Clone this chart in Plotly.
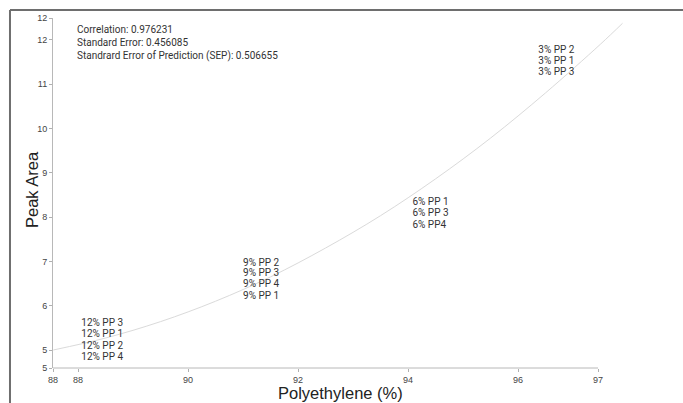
import plotly.graph_objects as go

# ---- data ----
labels_12 = ["12% PP 3", "12% PP 1", "12% PP 2", "12% PP 4"]
x_12 = [88.06, 88.06, 88.06, 88.06]
y_12 = [5.59, 5.34, 5.09, 4.84]

labels_9 = ["9% PP 2", "9% PP 3", "9% PP 4", "9% PP 1"]
x_9 = [91.0, 91.0, 91.0, 91.0]
y_9 = [6.96, 6.72, 6.47, 6.20]

labels_6 = ["6% PP 1", "6% PP 3", "6% PP4"]
x_6 = [94.08, 94.08, 94.08]
y_6 = [8.32, 8.07, 7.82]

labels_3 = ["3% PP 2", "3% PP 1", "3% PP 3"]
x_3 = [96.37, 96.37, 96.37]
y_3 = [11.75, 11.50, 11.25]

# fitted curve, points
curve_x = [87.55, 88.5, 89.5, 90.5, 91.5, 92.5, 93.5, 94.5, 95.5, 96.5, 97.5, 97.9]
curve_y = [5.00, 5.27, 5.64, 6.10, 6.65, 7.30, 8.03, 8.86, 9.78, 10.80, 11.90, 12.37]

x_range = [87.545, 98.2]
y_range = [4.594, 12.49]
x_axis_end = 97.455
x_tickvals = [87.545, 88, 90, 92, 94, 96, 97.455]
x_ticktext = ["88", "88", "90", "92", "94", "96", "97"]
y_tickvals = [4.594, 5, 6, 7, 8, 9, 10, 11, 12, 12.49]
y_ticktext = ["5", "5", "6", "7", "8", "9", "10", "11", "12", "12"]

stats = [
    "Correlation: 0.976231",
    "Standard Error: 0.456085",
    "Standrard Error of Prediction (SEP): 0.506655",
]

NARROW = "Roboto, Liberation Sans, sans-serif"

fig = go.Figure()
fig.add_trace(go.Scatter(x=curve_x, y=curve_y, mode="lines", line=dict(color="#dadada", width=1, shape="spline"),
                         hoverinfo="skip", showlegend=False))
for xs, ys, ls in [(x_12, y_12, labels_12), (x_9, y_9, labels_9), (x_6, y_6, labels_6), (x_3, y_3, labels_3)]:
    fig.add_trace(go.Scatter(x=xs, y=ys, text=ls, mode="text", textposition="middle right",
                             textfont=dict(family=NARROW, size=10, color="#333333"),
                             cliponaxis=False, showlegend=False))

axis_common = dict(showgrid=False, zeroline=False, ticks="outside", ticklen=3, tickcolor="#b0b0b0",
                   tickfont=dict(family="Liberation Sans, Arial, sans-serif", size=9, color="#444444"),
                   tickmode="array", fixedrange=True)
fig.update_xaxes(range=x_range, tickvals=x_tickvals, ticktext=x_ticktext, showline=False, **axis_common)
fig.update_yaxes(range=y_range, tickvals=y_tickvals, ticktext=y_ticktext, showline=True, linecolor="#b8b8b8",
                 linewidth=1, **axis_common)

shapes = [
    # x axis line (only up to the axis end)
    dict(type="line", xref="x", yref="paper", x0=x_range[0], x1=x_axis_end, y0=0, y1=0,
         line=dict(color="#b8b8b8", width=1)),
    # outer frame (left + top)
    dict(type="line", xref="paper", yref="paper", x0=-0.0734, x1=-0.0734, y0=1.0229, y1=-0.1,
         line=dict(color="#6e6e6e", width=2)),
    dict(type="line", xref="paper", yref="paper", x0=-0.0734, x1=1.1, y0=1.0229, y1=1.0229,
         line=dict(color="#6e6e6e", width=2)),
]

annotations = [
    dict(text="<br>".join(stats), xref="paper", yref="paper", x=0.038, y=0.929,
         xanchor="left", yanchor="middle", align="left", showarrow=False,
         font=dict(family=NARROW, size=10, color="#333333")),
    dict(text="Polyethylene (%)", xref="paper", yref="paper", x=0.4898, y=-0.0714,
         xanchor="center", yanchor="middle", showarrow=False,
         font=dict(family="Liberation Sans, Arial, sans-serif", size=16.5, color="#222222")),
    dict(text="Peak Area", xref="paper", yref="paper", x=-0.0358, y=0.5086, textangle=-90,
         xanchor="center", yanchor="middle", showarrow=False,
         font=dict(family="Liberation Sans, Arial, sans-serif", size=16.5, color="#222222")),
]

fig.update_layout(width=683, height=403, margin=dict(l=53, r=44, t=18, b=35, pad=0),
                  plot_bgcolor="white", paper_bgcolor="white", shapes=shapes, annotations=annotations,
                  showlegend=False)

fig.write_html("out.html", config={"displayModeBar": False})
